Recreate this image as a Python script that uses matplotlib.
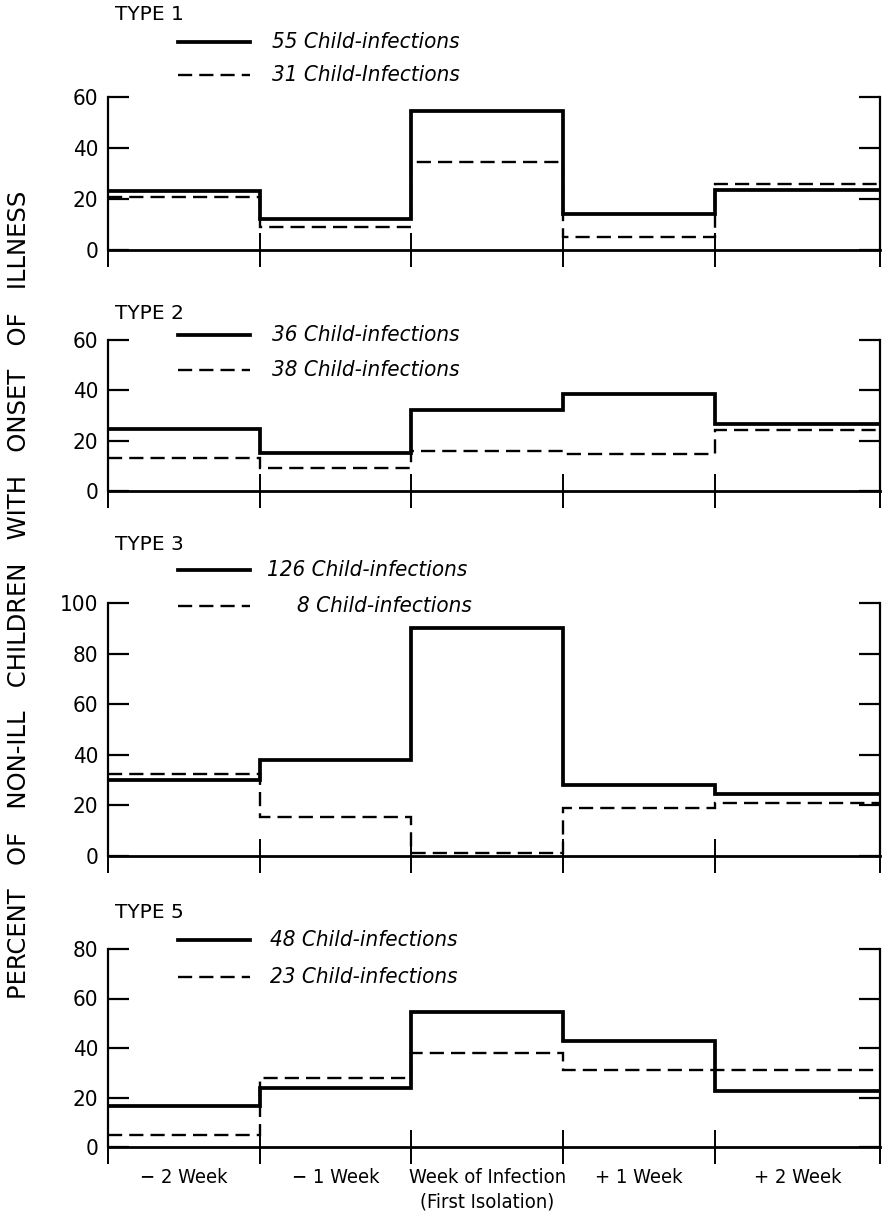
import numpy as np
import matplotlib
matplotlib.use("Agg")
import matplotlib.pyplot as plt
from matplotlib.lines import Line2D

# week categories along the x axis
weeks = ["\u2212 2 Week", "\u2212 1 Week", "Week of Infection\n(First Isolation)",
         "+ 1 Week", "+ 2 Week"]

# percent of non-ill children with onset of illness, per week
type1_solid = [23, 12, 54.5, 14.3, 23.5]
type1_dashed = [20.7, 9, 34.5, 5.2, 26]
type2_solid = [24.5, 15, 32, 38.5, 26.5]
type2_dashed = [13.3, 9.3, 16, 14.7, 24.2]
type3_solid = [30, 38, 90, 28, 24.5]
type3_dashed = [32.5, 15.5, 1.3, 19, 21]
type5_solid = [16.5, 24, 54.5, 43, 22.5]
type5_dashed = [4.7, 28, 38, 31, 31]

titles = ["TYPE 1", "TYPE 2", "TYPE 3", "TYPE 5"]
solid_labels = ["55 Child-infections", "36 Child-infections",
                "126 Child-infections", "48 Child-infections"]
dashed_labels = ["31 Child-Infections", "38 Child-infections",
                 "8 Child-infections", "23 Child-infections"]
y_max = [60, 60, 100, 80]

W, H = 886, 1217
DPI = 100

# layout in pixels: (top of y axis, zero line, title y, solid legend y, dashed legend y)
panel_px = [(97, 250, 15, 42, 75),
            (340, 491, 313, 335, 370),
            (603, 856, 545, 570, 606),
            (949, 1147, 913, 940, 977)]
legend_text_x = [(272, 272), (272, 272), (267, 297), (270, 270)]
x_left, x_right = 108, 880
edges = [0, 1, 2, 3, 4, 5.09]   # last interval drawn a bit wider, as in the original

cond = dict(family=["DejaVu Sans"], stretch="condensed")


def fx(x):
    return x / W


def fy(y):
    return 1 - y / H


fig = plt.figure(figsize=(W / DPI, H / DPI), dpi=DPI)

all_solid = [type1_solid, type2_solid, type3_solid, type5_solid]
all_dashed = [type1_dashed, type2_dashed, type3_dashed, type5_dashed]

for i in range(4):
    top, zero, ty, sy, dy = panel_px[i]
    ax = fig.add_axes([fx(x_left), fy(zero), (x_right - x_left) / W, (zero - top) / H])
    ax.stairs(all_solid[i], edges, baseline=None, color="black", linewidth=2.7)
    ax.stairs(all_dashed[i], edges, baseline=None, color="black", linewidth=1.7,
              linestyle=(0, (6, 3)))
    ax.set_xlim(edges[0], edges[-1])
    ax.set_ylim(0, y_max[i])

    ax.spines["top"].set_visible(False)
    for s in ["left", "right", "bottom"]:
        ax.spines[s].set_linewidth(1.6)
    ax.spines["bottom"].set_linewidth(2.0)

    ax.set_yticks(np.arange(0, y_max[i] + 1, 20))
    ax.tick_params(axis="y", direction="in", length=15, width=1.6, pad=7,
                   left=True, right=True, labelright=False, labelsize=16)
    for lab in ax.get_yticklabels():
        lab.set_fontstretch("condensed")

    ax.set_xticks(edges)
    ax.tick_params(axis="x", which="major", direction="inout", length=24, width=1.4,
                   labelbottom=False)
    if i == 3:
        centers = [(edges[k] + edges[k + 1]) / 2 for k in range(5)]
        ax.set_xticks(centers, minor=True)
        ax.set_xticklabels(weeks, minor=True, fontsize=14.5, **cond)
        ax.tick_params(axis="x", which="minor", length=0, pad=15)
        for lab in ax.get_xticklabels(minor=True):
            lab.set_verticalalignment("top")
            lab.set_linespacing(1.35)

    # title and legend drawn by hand, as in the original figure
    fig.text(fx(115), fy(ty), titles[i], fontsize=14.5, va="center", ha="left",
             family="DejaVu Sans")
    fig.add_artist(Line2D([fx(178), fx(250)], [fy(sy), fy(sy)], color="black",
                          linewidth=2.7, transform=fig.transFigure))
    fig.add_artist(Line2D([fx(178), fx(250)], [fy(dy), fy(dy)], color="black",
                          linewidth=1.7, linestyle=(0, (6, 3)),
                          transform=fig.transFigure))
    fig.text(fx(legend_text_x[i][0]), fy(sy), solid_labels[i], fontsize=16,
             style="italic", va="center", ha="left", **cond)
    fig.text(fx(legend_text_x[i][1]), fy(dy), dashed_labels[i], fontsize=16,
             style="italic", va="center", ha="left", **cond)

fig.text(fx(19), fy(595), "PERCENT   OF   NON-ILL   CHILDREN   WITH   ONSET   OF   ILLNESS",
         rotation=90, fontsize=17.5, va="center", ha="center", family="DejaVu Sans")

fig.savefig("out.png", dpi=DPI)
